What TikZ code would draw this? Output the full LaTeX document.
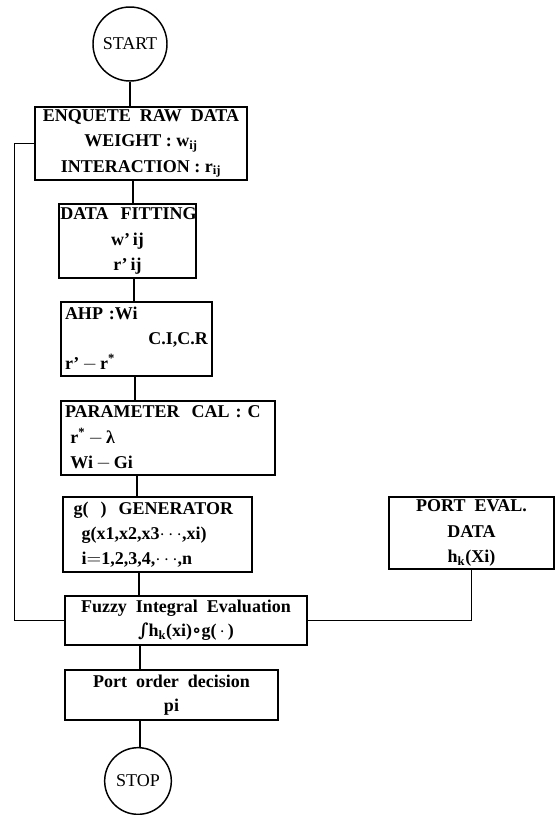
\documentclass[tikz,border=0pt]{standalone}
\usepackage{fontspec}
\setmainfont{Liberation Serif}
\newfontfamily\symfont{DejaVu Serif}
\newcommand{\flowfont}{\bfseries\fontsize{13.5}{19}\selectfont}
\newcommand{\tightfont}{\bfseries\fontsize{13.5}{18}\selectfont}

\tikzset{
  box/.style={draw, rectangle, line width=1.1pt, inner xsep=3pt, inner ysep=1pt, font=\flowfont},
  term/.style={draw, circle, line width=1.1pt, inner sep=0pt, font=\fontsize{13.5}{16}\selectfont},
  link/.style={line width=1.1pt},
}

\begin{document}
\begin{tikzpicture}[x=0.75pt,y=0.75pt,yscale=-1,xscale=1]
\useasboundingbox (0,0) rectangle (556,815);

%Terminals
\node [term, minimum size=55.5pt] (start) at (130,44) {START};
\node [term, minimum size=50pt] (stop) at (138,781) {STOP};

%Process boxes
\node [box, minimum width=159pt, minimum height=54.75pt, align=center] (enq) at (141,143.5)
  {ENQUETE\ \ RAW\ \ DATA\\ WEIGHT : w\textsubscript{ij}\\ INTERACTION : r\textsubscript{ij}};
\node [box, inner xsep=1pt, text width=100.75pt, minimum height=55.5pt, align=center] (fit) at (127.5,241)
  {\makebox[\linewidth][l]{DATA\ \ FITTING}\\ w'\,ij\\ r'\,ij};
\node [box, text width=107.25pt, minimum height=55.5pt, align=left] (ahp) at (136.5,339)
  {AHP :Wi\\ \makebox[\linewidth][r]{C.I,C.R}\\ r'\,$-$\,r\textsuperscript{*}};
\node [box, text width=154.5pt, minimum height=55.5pt, align=left] (par) at (168,438)
  {PARAMETER\ \ CAL : C\\ \hspace*{4pt}r\textsuperscript{*}\,$-$\,λ\\ \hspace*{4pt}Wi\,$-$\,Gi};
\node [box, text width=135.75pt, minimum height=56.25pt, align=left] (gen) at (157.5,534.5)
  {\hspace*{5pt}g(\ \ )\ \ GENERATOR\\ \hspace*{11pt}g(x1,x2,x3$\cdots$,xi)\\ \hspace*{11pt}i$=$1,2,3,4,$\cdots$,n};
\node [box, font=\tightfont, minimum width=181.5pt, minimum height=36.75pt, align=center] (fuz) at (186,620.5)
  {Fuzzy\ \ Integral\ \ Evaluation\\ {\symfont ∫}h\textsubscript{k}(xi){\symfont ∘}g(\,$\cdot$\,)};
\node [box, font=\tightfont, minimum width=159.75pt, minimum height=37.5pt, align=center] (dec) at (171.5,695)
  {Port\ \ order\ \ decision\\ pi};
\node [box, minimum width=123.75pt, minimum height=54pt, align=center] (port) at (471.5,533)
  {PORT\ \ EVAL.\\ DATA\\ h\textsubscript{k}(Xi)};

%Main flow
\foreach \a/\b/\x in {start/enq/130, enq/fit/133, fit/ahp/134, ahp/par/135, par/gen/137, gen/fuz/139, fuz/dec/140, dec/stop/140}{
  \coordinate (spine) at (\x,0);
  \draw [link] (\a.south -| spine) -- (\b.north -| spine);
}

%Feedback and data input
\draw [link] (enq.west) -- ++(-20,0) |- (fuz.west);
\draw [link] (fuz.east) -| (port.south);

\end{tikzpicture}
\end{document}
